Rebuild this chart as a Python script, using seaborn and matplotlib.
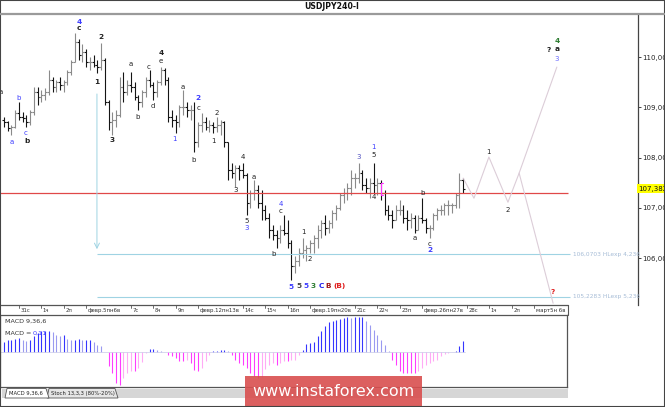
import numpy as np
import pandas as pd
import matplotlib.pyplot as plt
import matplotlib.transforms as mtransforms
from matplotlib.patches import Rectangle, Polygon
from matplotlib.lines import Line2D
import seaborn as sns

# USDJPY 4H bars, 30 Jan .. 27 Feb (index 0 = first bar on the chart)
high = [108.80, 108.72, 108.65, 108.95, 109.10, 108.90, 108.85, 108.95, 109.40, 109.40,
        109.35, 109.38, 109.75, 109.60, 109.55, 109.60, 109.55, 109.75, 109.95, 110.48,
        110.35, 110.25, 110.15, 110.00, 110.05, 109.95, 110.28, 109.98, 109.14, 108.90,
        108.95, 109.60, 109.70, 109.55, 109.70, 109.50, 109.25, 109.35, 109.60, 109.74,
        109.50, 109.55, 109.80, 109.78, 109.60, 108.95, 108.85, 109.05, 109.34, 109.10,
        109.05, 109.10, 108.70, 108.88, 108.80, 108.75, 108.70, 108.80, 108.75, 108.72,
        108.30, 107.90, 107.85, 107.85, 107.90, 107.69, 107.35, 107.55, 107.45, 107.35,
        107.05, 106.90, 106.65, 106.55, 106.65, 106.86, 106.75, 106.35, 106.05, 106.20,
        106.40, 106.25, 106.35, 106.45, 106.65, 106.75, 106.85, 106.75, 106.95, 107.05,
        107.30, 107.40, 107.50, 107.75, 107.70, 107.90, 107.75, 107.60, 107.60, 107.90,
        107.60, 107.55, 107.35, 107.05, 106.95, 107.05, 107.15, 107.05, 106.95, 106.90,
        106.85, 106.85, 107.20, 106.80, 106.65, 106.90, 107.00, 107.05, 107.10, 107.15,
        107.10, 107.30, 107.69, 107.60]
low = [108.60, 108.52, 108.45, 108.58, 108.75, 108.70, 108.60, 108.65, 108.85, 109.05,
       109.10, 109.15, 109.25, 109.30, 109.30, 109.35, 109.30, 109.45, 109.65, 109.90,
       109.95, 109.90, 109.80, 109.75, 109.80, 109.68, 109.75, 109.04, 108.55, 108.45,
       108.60, 108.80, 109.10, 109.25, 109.30, 109.15, 108.95, 109.00, 109.20, 109.40,
       109.14, 109.20, 109.45, 109.45, 108.70, 108.60, 108.48, 108.60, 108.85, 108.80,
       108.75, 108.10, 108.20, 108.50, 108.55, 108.50, 108.48, 108.50, 108.45, 108.20,
       107.55, 107.60, 107.41, 107.55, 107.60, 106.86, 107.00, 107.15, 107.00, 106.75,
       106.75, 106.40, 106.35, 106.20, 106.30, 106.45, 106.20, 105.56, 105.70, 105.85,
       106.00, 105.95, 106.10, 106.10, 106.20, 106.40, 106.45, 106.50, 106.60, 106.75,
       106.95, 107.10, 107.15, 107.25, 107.40, 107.50, 107.35, 107.30, 107.20, 107.30,
       107.25, 107.15, 106.85, 106.75, 106.60, 106.75, 106.85, 106.70, 106.55, 106.60,
       106.50, 106.55, 106.70, 106.50, 106.40, 106.55, 106.75, 106.85, 106.85, 106.85,
       106.90, 107.00, 107.00, 107.30]
close = [108.70, 108.58, 108.60, 108.88, 108.80, 108.78, 108.70, 108.90, 109.30, 109.20,
         109.25, 109.30, 109.55, 109.40, 109.50, 109.45, 109.50, 109.70, 109.90, 110.30,
         110.05, 110.10, 109.90, 109.90, 109.85, 109.80, 109.95, 109.10, 108.70, 108.75,
         108.85, 109.40, 109.30, 109.45, 109.40, 109.20, 109.10, 109.30, 109.55, 109.45,
         109.30, 109.50, 109.75, 109.55, 108.80, 108.75, 108.70, 109.00, 109.00, 108.95,
         108.95, 108.30, 108.65, 108.70, 108.60, 108.65, 108.60, 108.65, 108.70, 108.30,
         107.75, 107.70, 107.80, 107.75, 107.65, 107.10, 107.30, 107.35, 107.10, 106.95,
         106.80, 106.55, 106.45, 106.40, 106.55, 106.50, 106.30, 105.85, 105.95, 106.10,
         106.15, 106.20, 106.30, 106.40, 106.55, 106.70, 106.60, 106.70, 106.90, 107.00,
         107.25, 107.30, 107.40, 107.60, 107.60, 107.70, 107.45, 107.40, 107.50, 107.45,
         107.50, 107.30, 106.95, 106.85, 106.75, 106.95, 106.95, 106.80, 106.75, 106.80,
         106.55, 106.80, 106.75, 106.60, 106.60, 106.85, 106.95, 106.95, 107.05, 107.05,
         107.05, 107.25, 107.55, 107.38]
first_open = 108.75
last_price = 107.382
red_level = 107.29

# MACD 9,36,6 histogram, one value per bar
macd = [0.097, 0.113, 0.120, 0.126, 0.136, 0.120, 0.104, 0.113, 0.152, 0.185,
        0.201, 0.201, 0.201, 0.191, 0.168, 0.159, 0.162, 0.126, 0.113, 0.120,
        0.126, 0.113, 0.113, 0.113, 0.097, 0.071, 0.055, 0.003, -0.139, -0.204,
        -0.301, -0.318, -0.253, -0.204, -0.188, -0.188, -0.156, -0.097, -0.006, 0.032,
        0.032, 0.016, 0.006, -0.002, -0.026, -0.042, -0.058, -0.091, -0.091, -0.075,
        -0.107, -0.172, -0.188, -0.156, -0.091, -0.026, 0.006, 0.013, 0.016, 0.023,
        0.006, -0.032, -0.075, -0.107, -0.123, -0.156, -0.204, -0.237, -0.253, -0.243,
        -0.162, -0.123, -0.107, -0.123, -0.107, -0.091, -0.091, -0.081, -0.075, -0.032,
        0.023, 0.078, 0.087, 0.097, 0.152, 0.201, 0.249, 0.292, 0.298, 0.308,
        0.321, 0.330, 0.337, 0.330, 0.337, 0.340, 0.340, 0.298, 0.266, 0.217,
        0.168, 0.120, 0.071, 0.006, -0.075, -0.123, -0.188, -0.204, -0.204, -0.204,
        -0.204, -0.188, -0.156, -0.123, -0.107, -0.091, -0.075, -0.042, -0.019, -0.010,
        0.000, 0.006, 0.062, 0.110]

# forecast paths (bar index, price)
proj_idx = [123.0, 125.9, 129.9, 135.0, 138.0, 148.1]
proj_price = [107.59, 107.19, 108.01, 107.11, 107.69, 109.80]
alt_idx = [138.0, 147.1]
alt_price = [107.69, 105.10]

# fibo expansion levels
fib_levels = [106.0703, 105.2283]
fib_texts = ["106,0703 HLexp 4,236", "105,2283 HLexp 5,236"]

# day separators: day number from 31 Jan, label
day_nums = [0, 1, 2, 3, 5, 6, 7, 8, 10, 11, 12, 13, 15, 16, 17, 18, 20, 21, 22, 23]
day_labels = ["31с", "1ч", "2п", "февр.5пн6в", "7с", "8ч", "9п", "февр.12пн13в",
              "14с", "15ч", "16п", "февр.19пн20в", "21с", "22ч", "23п", "февр.26пн27в",
              "28с", "1ч", "2п", "март5н 6в"]
price_ticks = [106, 107, 108, 109, 110]

BLUE, BLK, GRN, RED = "#3d3dff", "#222222", "#2e7d32", "#e02020"
# wave marks: text, bar index, price, colour, bold
wave_labels = [
    ("a", -0.8, 109.30, BLK, False), ("b", 4.0, 109.18, BLUE, False),
    ("a", 2.1, 108.31, BLUE, False), ("c", 5.9, 108.49, BLUE, False),
    ("b", 6.2, 108.33, BLK, True), ("4", 20.1, 110.70, BLUE, True),
    ("c", 20.1, 110.57, BLK, True), ("2", 26.0, 110.40, BLK, True),
    ("1", 24.9, 109.50, BLK, True), ("3", 28.9, 108.35, BLK, True),
    ("a", 34.0, 109.86, BLK, False), ("b", 35.9, 108.81, BLK, False),
    ("c", 38.8, 109.80, BLK, False), ("d", 39.9, 109.02, BLK, False),
    ("4", 42.1, 110.08, BLK, True), ("e", 42.1, 109.92, BLK, False),
    ("a", 47.9, 109.40, BLK, False), ("1", 45.8, 108.37, BLUE, False),
    ("2", 52.0, 109.18, BLUE, True), ("c", 52.0, 108.99, BLK, False),
    ("b", 50.9, 107.95, BLK, False), ("1", 56.0, 108.33, BLK, False),
    ("2", 57.1, 108.89, BLK, False), ("4", 64.0, 108.01, BLK, False),
    ("3", 62.1, 107.35, BLK, False), ("a", 67.0, 107.61, BLK, False),
    ("5", 65.1, 106.74, BLK, False), ("3", 65.1, 106.59, BLUE, False),
    ("4", 74.2, 107.07, BLUE, False), ("c", 74.2, 106.94, BLK, False),
    ("b", 72.1, 106.08, BLK, False), ("1", 80.1, 106.52, BLK, False),
    ("2", 82.0, 105.98, BLK, False),
    ("5", 76.9, 105.42, BLUE, True), ("5", 79.0, 105.44, "#444444", True),
    ("5", 80.9, 105.44, BLUE, True), ("3", 82.8, 105.45, GRN, True),
    ("C", 84.9, 105.44, "#2020ee", True), ("B", 86.8, 105.44, "#a01818", True),
    ("(B)", 89.9, 105.44, RED, True),
    ("3", 95.1, 108.01, "#5050c0", False), ("1", 99.1, 108.21, BLUE, False),
    ("5", 99.1, 108.05, BLK, False), ("4", 99.1, 107.21, BLK, False),
    ("b", 112.0, 107.29, BLK, False), ("a", 110.1, 106.40, BLK, False),
    ("c", 114.1, 106.28, BLK, False), ("2", 114.1, 106.15, BLUE, True),
    ("1", 129.9, 108.11, BLK, False), ("2", 135.0, 106.96, BLK, False),
    ("?", 147.1, 105.32, RED, True), ("4", 148.1, 110.32, GRN, True),
    ("?", 146.0, 110.14, BLK, True), ("a", 148.1, 110.16, BLK, True),
    ("3", 148.1, 109.96, "#6a6aff", False),
]

sns.set_style("white")
plt.rcParams["font.family"] = ["DejaVu Sans"]

W, H = 665, 407
fig = plt.figure(figsize=(W / 100, H / 100), dpi=100)


def fbox(x0, y0, x1, y1):
    # pixel box (top-left origin) -> figure fraction rect
    return [x0 / W, 1 - y1 / H, (x1 - x0) / W, (y1 - y0) / H]


# ---------------- price panel ----------------
ax = fig.add_axes(fbox(0, 14, 638, 305))
n = len(close)
idx = np.arange(n)
opens = np.array([first_open] + close[:-1])
cl = np.array(close)
col = np.where(cl >= opens, "#8a8a8a", "#151515")
ax.vlines(idx, low, high, colors=col, lw=0.8)
ax.hlines(opens, idx - 0.5, idx, colors=col, lw=0.8)
ax.hlines(cl, idx, idx + 0.5, colors=col, lw=0.8)

x_left, x_right = -1.07, 169.84
x_end = 151.0  # where the dated area stops
ax.set_xlim(x_left, x_right)
ax.set_ylim(105.065, 110.856)

# horizontal levels
ax.hlines(red_level, x_left, x_end, colors="#e04848", lw=0.9)
for lvl, txt in zip(fib_levels, fib_texts):
    ax.hlines(lvl, 24.9, 151.6, colors="#9fd3e3", lw=0.8)
    ax.text(152.4, lvl, txt, fontsize=4.2, color="#a6bcd6", va="center", ha="left")

# projection arrow from wave 1
ax.annotate("", xy=(24.9, 106.12), xytext=(24.9, 109.32),
            arrowprops=dict(arrowstyle="->", color="#9fd3e3", lw=0.7, mutation_scale=9))

# small magenta marker
ax.plot([101.6, 101.0, 101.0, 101.6], [107.49, 107.49, 107.25, 107.25], color="#ff33ff", lw=0.8)

# forecast lines
proj = pd.DataFrame({"i": proj_idx, "p": proj_price})
alt = pd.DataFrame({"i": alt_idx, "p": alt_price})
sns.lineplot(data=proj, x="i", y="p", sort=False, color="#dccdd8", lw=0.8, ax=ax)
sns.lineplot(data=alt, x="i", y="p", sort=False, color="#dccdd8", lw=0.8, ax=ax)

for txt, xi, yp, c, b in wave_labels:
    ax.text(xi, yp, txt, color=c, fontsize=5 if not b else 5.3,
            fontweight="bold" if b else "normal", ha="center", va="center", clip_on=False)

# axes cosmetics
for s in ["top", "left", "bottom"]:
    ax.spines[s].set_visible(False)
ax.spines["right"].set_color("#444444")
ax.spines["right"].set_linewidth(0.9)
ax.set_xlabel("")
ax.set_ylabel("")
ax.yaxis.tick_right()
ax.set_yticks(price_ticks)
ax.set_yticklabels([f"{v:.3f}".replace(".", ",") for v in price_ticks])
ax.tick_params(axis="y", which="both", right=True, length=2.5, width=0.7, color="#444444",
               labelsize=5.0, pad=0.8, labelcolor="#222222")
ax.set_xticks([])

# bottom line of the dated area and day ticks
ax.plot([0, (x_end - x_left) / (x_right - x_left)], [0, 0], transform=ax.transAxes,
        color="#555555", lw=0.9, clip_on=False)
trans = mtransforms.blended_transform_factory(ax.transData, ax.transAxes)
for d, lab in zip(day_nums, day_labels):
    xi = 4 + 6 * d
    ax.plot([xi, xi], [0.0, -0.012], transform=trans, color="#555555", lw=0.6, clip_on=False)
    ax.text(xi + 0.4, -0.02, lab, transform=trans, fontsize=3.9, color="#333333",
            ha="left", va="center", clip_on=False)
ax.plot([x_end, x_end], [0, -0.035], transform=trans, color="#555555", lw=0.8, clip_on=False)

# current price tag
trans_y = mtransforms.blended_transform_factory(ax.transAxes, ax.transData)
ax.text(1.0, last_price, "107,382", transform=trans_y, fontsize=5.0, color="#111111",
        ha="left", va="center", clip_on=False,
        bbox=dict(boxstyle="square,pad=0.2", fc="#ffff00", ec="none"))

# ---------------- MACD panel ----------------
ax2 = fig.add_axes(fbox(0, 315, 567, 387))
m = np.array(macd)
prev = np.r_[m[0], m[:-1]]
mcol = np.where(m >= 0, np.where(m >= prev, "#3535ff", "#9a9af0"),
                np.where(m <= prev, "#ff3cff", "#ffaaf5"))
ax2.vlines(idx, 0, m, colors=mcol, lw=0.8)
ax2.axhline(0, xmax=(n - 0.5 - x_left) / (150.8 - x_left), color="#c8c8e8", lw=0.5)
ax2.set_xlim(x_left, 150.8)
ax2.set_ylim(-0.34, 0.36)
ax2.set_xticks([])
ax2.set_yticks([])
for s in ax2.spines.values():
    s.set_color("#555555")
    s.set_linewidth(0.9)
ax2.text(0.008, 0.95, "MACD 9,36,6", transform=ax2.transAxes, fontsize=4.6,
         color="#333333", va="top", ha="left")
ax2.text(0.008, 0.78, "MACD =", transform=ax2.transAxes, fontsize=4.6,
         color="#333333", va="top", ha="left")
ax2.text(0.058, 0.78, "0,11", transform=ax2.transAxes, fontsize=4.6,
         color="#3d3dff", va="top", ha="left")

# ---------------- frame pieces ----------------
fig.text(332 / W, 1 - 6.5 / H, "USDJPY240-I", fontsize=5.6, fontweight="bold",
         ha="center", va="center", color="#111111")
fig.add_artist(Line2D([0, 1], [1 - 13.5 / H] * 2, color="#9a9a9a", lw=1.6))

# indicator tabs
fig.add_artist(Rectangle(fbox(2, 389, 568, 398)[:2], 566 / W, 9 / H,
                         fc="#d6d6d6", ec="none"))
tab1 = [(5, 398), (7, 388.5), (46, 388.5), (49, 398)]
tab2 = [(47, 398), (49, 388.5), (115, 388.5), (118, 398)]
for pts, fc in [(tab2, "#e6e6e6"), (tab1, "#ffffff")]:
    fig.add_artist(Polygon([(x / W, 1 - y / H) for x, y in pts], closed=True,
                           fc=fc, ec="#555555", lw=0.6))
fig.text(9 / W, 1 - 393.5 / H, "MACD 9,36,6", fontsize=3.8, va="center", ha="left", color="#222222")
fig.text(51 / W, 1 - 393.5 / H, "Stoch 13,3,3 (80%-20%)", fontsize=3.8, va="center",
         ha="left", color="#222222")

# watermark
fig.add_artist(Rectangle(fbox(245, 376, 422, 407)[:2], 177 / W, 31 / H,
                         fc="#d94f4f", ec="none", alpha=0.9))
fig.text(333.5 / W, 1 - 391.5 / H, "www.instaforex.com", fontsize=11.5, color="white",
         ha="center", va="center")

# outer border
fig.add_artist(Rectangle((0, 0), 1, 1, fill=False, ec="#444444", lw=1.5,
                         transform=fig.transFigure))

fig.savefig("out.png", dpi=100)
plt.close(fig)
